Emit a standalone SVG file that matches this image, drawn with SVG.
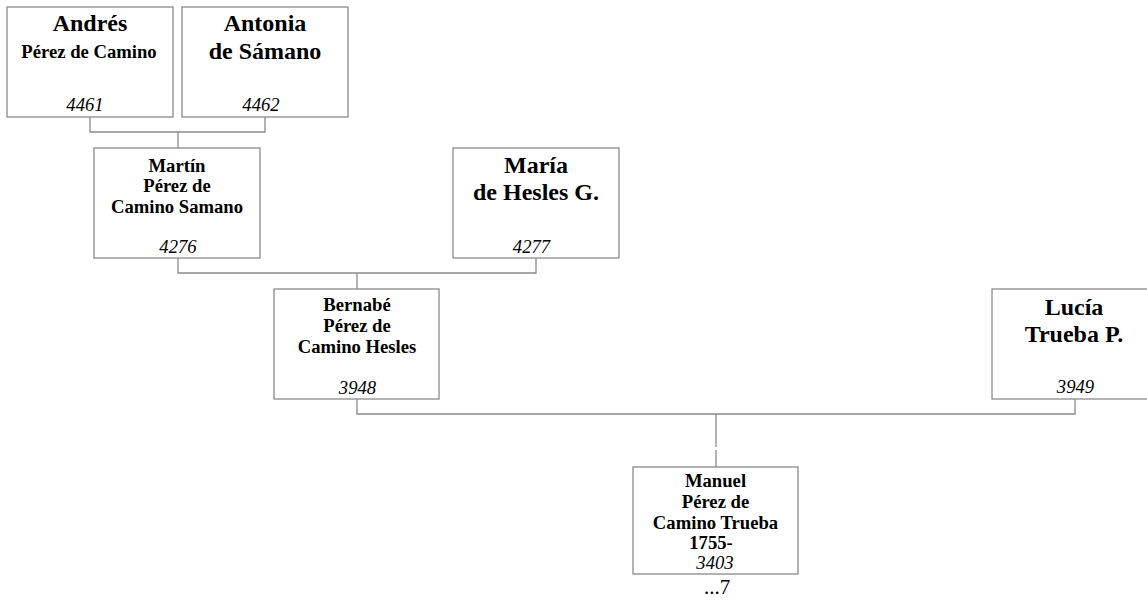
<svg xmlns="http://www.w3.org/2000/svg" width="1147" height="600" viewBox="0 0 1147 600">
<style>
.bg{fill:#ffffff}
.box{fill:#ffffff;stroke:#8a8a8a;stroke-width:1.3}
.conn{fill:none;stroke:#8a8a8a;stroke-width:1.3}
text{font-family:"Liberation Serif","Times New Roman",serif;fill:#000;text-anchor:middle}
.big{font-size:24px;font-weight:bold}
.nm{font-size:18.67px;font-weight:bold}
.num{font-size:18.67px;font-style:italic}
.more{font-size:21px}
</style>
<rect class="bg" x="0" y="0" width="1147" height="600"/>
<g id="connectors">
<polyline class="conn" points="90,117 90,132 265,132 265,117"/>
<line class="conn" x1="178" y1="132" x2="178" y2="148"/>
<polyline class="conn" points="178,258 178,273 536,273 536,258"/>
<line class="conn" x1="357" y1="273" x2="357" y2="289"/>
<polyline class="conn" points="357,399 357,414 1075,414 1075,399"/>
<line class="conn" x1="716" y1="414" x2="716" y2="447"/>
<line class="conn" x1="716" y1="450" x2="716" y2="467"/>
</g>
<g id="n4461">
<rect class="box" x="7" y="7" width="166" height="110"/>
<text class="big" x="90" y="31">Andrés</text>
<text class="nm" x="89" y="58">Pérez de Camino</text>
<text class="num" x="85" y="111">4461</text>
</g>
<g id="n4462">
<rect class="box" x="182" y="7" width="166" height="110"/>
<text class="big" x="265" y="31">Antonia</text>
<text class="big" x="265" y="59">de Sámano</text>
<text class="num" x="261" y="111">4462</text>
</g>
<g id="n4276">
<rect class="box" x="94" y="148" width="166" height="110"/>
<text class="nm" x="177" y="172">Martín</text>
<text class="nm" x="177" y="192">Pérez de</text>
<text class="nm" x="177" y="213">Camino Samano</text>
<text class="num" x="178" y="253">4276</text>
</g>
<g id="n4277">
<rect class="box" x="453" y="148" width="166" height="110"/>
<text class="big" x="536" y="173">María</text>
<text class="big" x="536" y="200">de Hesles G.</text>
<text class="num" x="531.5" y="253">4277</text>
</g>
<g id="n3948">
<rect class="box" x="274" y="289" width="165" height="110"/>
<text class="nm" x="357" y="311">Bernabé</text>
<text class="nm" x="357" y="332">Pérez de</text>
<text class="nm" x="357" y="353">Camino Hesles</text>
<text class="num" x="357.5" y="394">3948</text>
</g>
<g id="n3949">
<rect class="box" x="992" y="289" width="166" height="110"/>
<text class="big" x="1074" y="315">Lucía</text>
<text class="big" x="1074" y="342">Trueba P.</text>
<text class="num" x="1075.5" y="393">3949</text>
</g>
<g id="n3403">
<rect class="box" x="633" y="467" width="165" height="107"/>
<text class="nm" x="715.5" y="487">Manuel</text>
<text class="nm" x="715.5" y="508">Pérez de</text>
<text class="nm" x="715.5" y="529">Camino Trueba</text>
<text class="nm" x="711" y="549">1755-</text>
<text class="num" x="715" y="569">3403</text>
<text class="more" x="717" y="594">...7</text>
</g>
</svg>
